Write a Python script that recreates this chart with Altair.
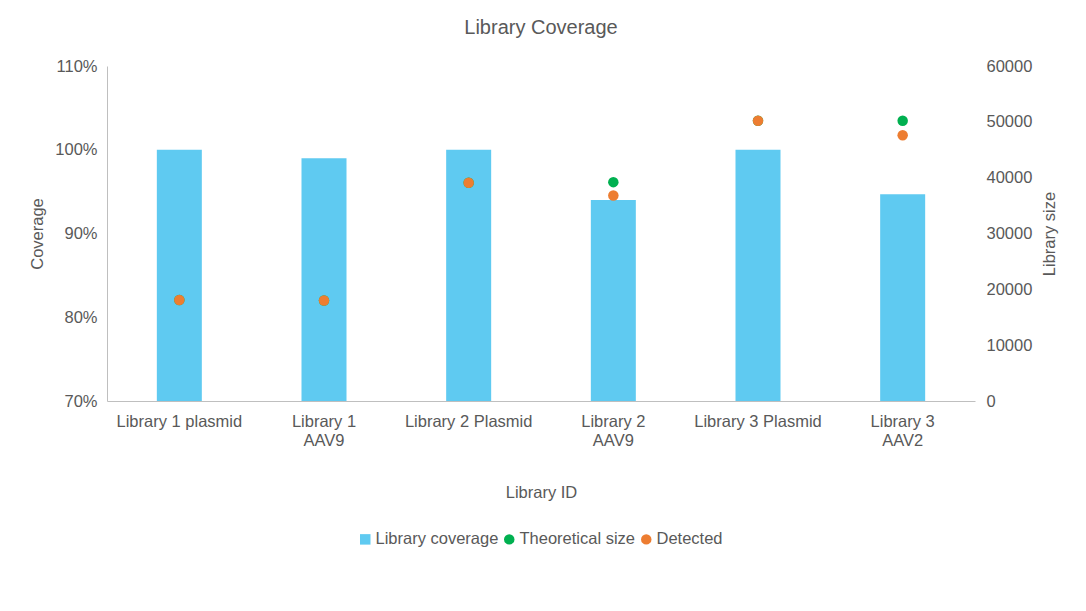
import altair as alt
import pandas as pd

categories = ["Library 1 plasmid", "Library 1\nAAV9", "Library 2 Plasmid",
              "Library 2\nAAV9", "Library 3 Plasmid", "Library 3\nAAV2"]
coverage = [1.00, 0.990, 1.00, 0.940, 1.00, 0.947]
theoretical = [18100, 18000, 39100, 39200, 50200, 50200]
detected = [18100, 18000, 39100, 36800, 50200, 47600]

series_names = ["Library coverage", "Theoretical size", "Detected"]
series_colors = ["#5FCAF1", "#00B050", "#ED7D31"]

bars_df = pd.DataFrame({"lib": categories, "coverage": coverage,
                        "series": ["Library coverage"] * len(categories)})
pts_df = pd.concat([
    pd.DataFrame({"lib": categories, "size": theoretical, "series": "Theoretical size"}),
    pd.DataFrame({"lib": categories, "size": detected, "series": "Detected"}),
], ignore_index=True)

FONT = "Liberation Sans"
GREY = "#595959"
AXIS_GREY = "#BFBFBF"
FS = 16.5

color_scale = alt.Scale(domain=series_names, range=series_colors)
legend = alt.Legend(title=None, orient="none", direction="horizontal",
                    legendX=250, legendY=465)

x_enc = alt.X("lib:N", sort=categories, title="Library ID",
              scale=alt.Scale(paddingInner=0.0, paddingOuter=0.0),
              axis=alt.Axis(labelAngle=0, ticks=False, domainColor=AXIS_GREY,
                            labelExpr="split(datum.label, '\\n')",
                            labelPadding=12, titlePadding=36,
                            labelLineHeight=19))

bars = alt.Chart(bars_df).mark_bar(size=45, clip=True).encode(
    x=x_enc,
    y=alt.Y("coverage:Q", title="Coverage",
            scale=alt.Scale(domain=[0.7, 1.1], zero=False, nice=False),
            axis=alt.Axis(format=".0%", values=[0.7, 0.8, 0.9, 1.0, 1.1],
                          ticks=False, grid=False, domainColor=AXIS_GREY,
                          labelPadding=10, titlePadding=9)),
    color=alt.Color("series:N", scale=color_scale, legend=legend),
)

points = alt.Chart(pts_df).mark_point(filled=True, opacity=1, size=110).encode(
    x=alt.X("lib:N", sort=categories),
    y=alt.Y("size:Q", title="Library size",
            scale=alt.Scale(domain=[0, 60000], nice=False),
            axis=alt.Axis(orient="right", values=[0, 10000, 20000, 30000, 40000, 50000, 60000],
                          format="d", ticks=False, grid=False, domain=False,
                          labelPadding=11, titlePadding=26, titleAngle=270)),
    color=alt.Color("series:N", scale=color_scale, legend=legend),
    shape=alt.Shape("series:N",
                    scale=alt.Scale(domain=series_names, range=["square", "circle", "circle"]),
                    legend=legend),
)

chart = alt.layer(bars, points).resolve_scale(y="independent").properties(
    width=868, height=335,
    title=alt.TitleParams("Library Coverage", fontSize=20, font=FONT, color=GREY,
                          fontWeight="normal", anchor="middle", offset=20),
    autosize=alt.AutoSizeParams(type="none"),
    padding={"left": 99, "top": 58, "right": 100, "bottom": 180},
).configure_view(stroke=None).configure_axis(
    labelFont=FONT, titleFont=FONT, labelFontSize=FS, titleFontSize=FS,
    labelColor=GREY, titleColor=GREY, titleFontWeight="normal",
).configure_legend(
    labelFont=FONT, labelFontSize=FS, labelColor=GREY, symbolSize=110,
    columnPadding=2, labelOffset=2,
)

chart.save("out.html", embed_options={"renderer": "svg", "actions": False})
